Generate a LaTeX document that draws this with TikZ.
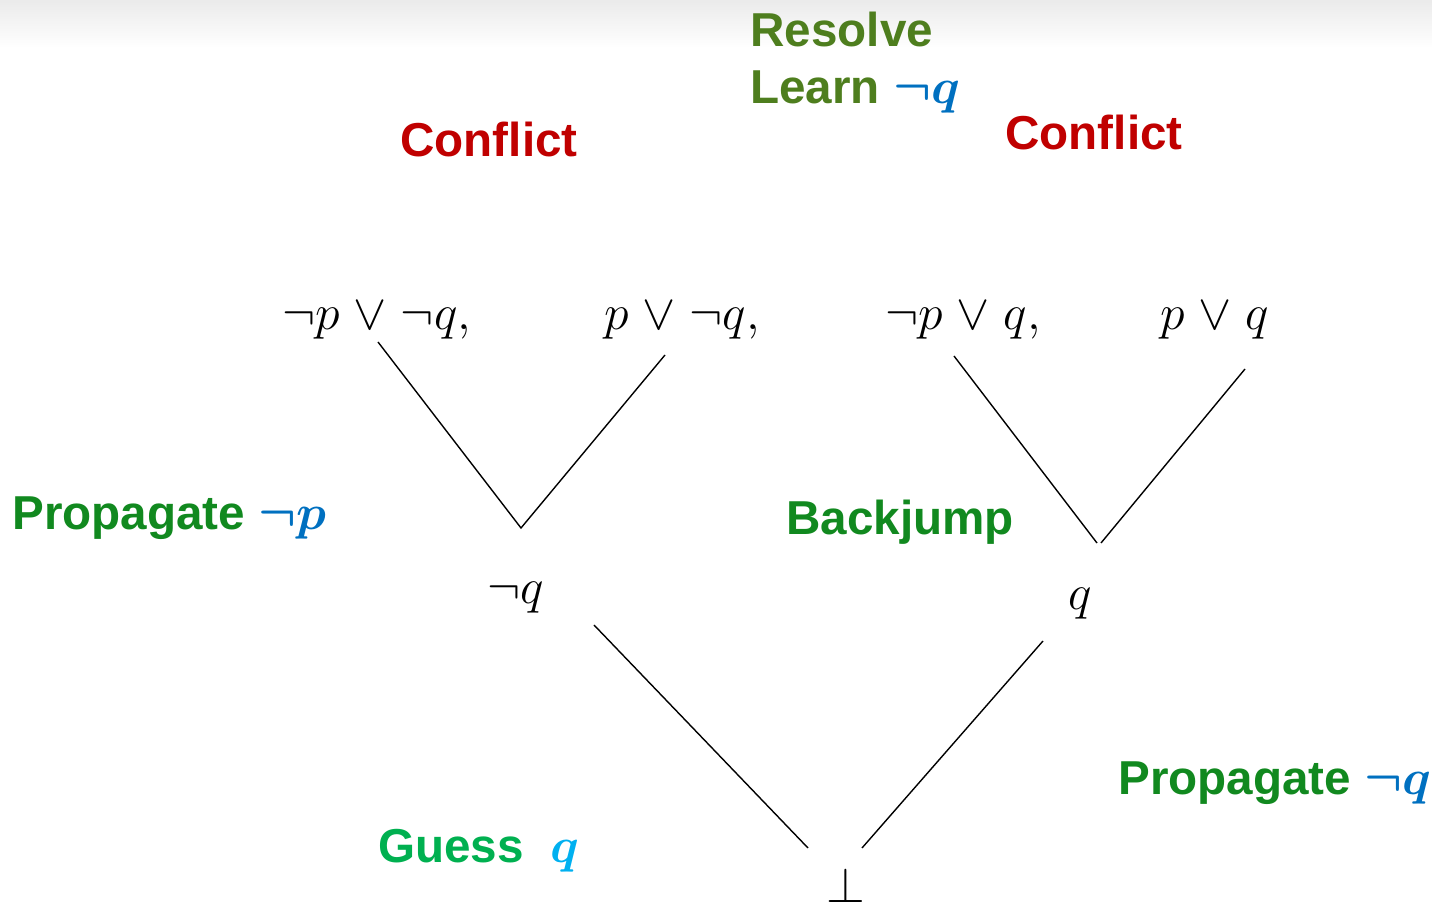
\documentclass[tikz,border=0pt]{standalone}
\usepackage{amsmath,amssymb}
\usepackage{fontspec}
\setmainfont{Liberation Sans}
\definecolor{oliveg}{HTML}{4E7E1E}
\definecolor{stepgreen}{HTML}{11891F}
\definecolor{guessgreen}{HTML}{00B050}
\definecolor{confred}{HTML}{C00000}
\definecolor{litblue}{HTML}{0070C0}
\definecolor{litcyan}{HTML}{00B0F0}
% disjunction with a little more room on both sides
\newcommand{\clor}{\mathrel{\vee}}
\tikzset{
  lbl/.style={inner sep=0pt, anchor=base west, font=\fontsize{23.8}{28}\selectfont\bfseries},
  frm/.style={inner sep=0pt, anchor=base west, font=\fontsize{25}{30}\selectfont},
  edge/.style={black, line width=0.7pt},
}
\begin{document}
\begin{tikzpicture}[x=0.5pt, y=-0.5pt]
\useasboundingbox (0,0) rectangle (1432,908);
% soft band along the top edge
\shade[top color=black!8, bottom color=white, draw=none] (0,0) rectangle (1432,48);

% step labels
\node[lbl, text=oliveg] (resolve) at (750,47) {Resolve};
\node[lbl, text=oliveg] (learn) at (750,104) {Learn \textcolor{litblue}{\boldmath$\neg q$}};
\node[lbl, text=confred] (conflA) at (400,157) {Conflict};
\node[lbl, text=confred] (conflB) at (1005,150) {Conflict};
\node[lbl, text=stepgreen] (propA) at (12,530) {Propagate \textcolor{litblue}{\boldmath$\neg p$}};
\node[lbl, text=stepgreen] (backj) at (786,535) {Backjump};
\node[lbl, text=stepgreen] (propB) at (1118,795) {Propagate \textcolor{litblue}{\boldmath$\neg q$}};
\node[lbl, text=guessgreen] (guess) at (378,863) {Guess\hspace{0.55em}\textcolor{litcyan}{\boldmath$q$}};

% clauses and literals
\node[frm] (c1) at (282,330) {$\neg p \clor \neg q,$};
\node[frm] (c2) at (604,330) {$p \clor \neg q,$};
\node[frm] (c3) at (885,330) {$\neg p \clor q,$};
\node[frm] (c4) at (1160,330) {$p \clor q$};
\node[frm] (nq) at (487,604) {$\neg q$};
\node[frm] (pq) at (1068,610) {$q$};
\node[frm] (bot) at (826,903) {$\bot$};

% end points of the tree edges
\coordinate (c1e) at (378,342);
\coordinate (c2e) at (665,355);
\coordinate (nqt) at (521,528);
\coordinate (c3e) at (954,356);
\coordinate (c4e) at (1245,369);
\coordinate (pqtl) at (1097,543);
\coordinate (pqtr) at (1101,543);
\coordinate (nqb) at (594,625);
\coordinate (pqb) at (1043,641);
\coordinate (botl) at (808,848);
\coordinate (botr) at (862,848);

\draw[edge] (c1e) -- (nqt) -- (c2e);
\draw[edge] (c3e) -- (pqtl);
\draw[edge] (pqtr) -- (c4e);
\draw[edge] (nqb) -- (botl);
\draw[edge] (pqb) -- (botr);
\end{tikzpicture}
\end{document}
